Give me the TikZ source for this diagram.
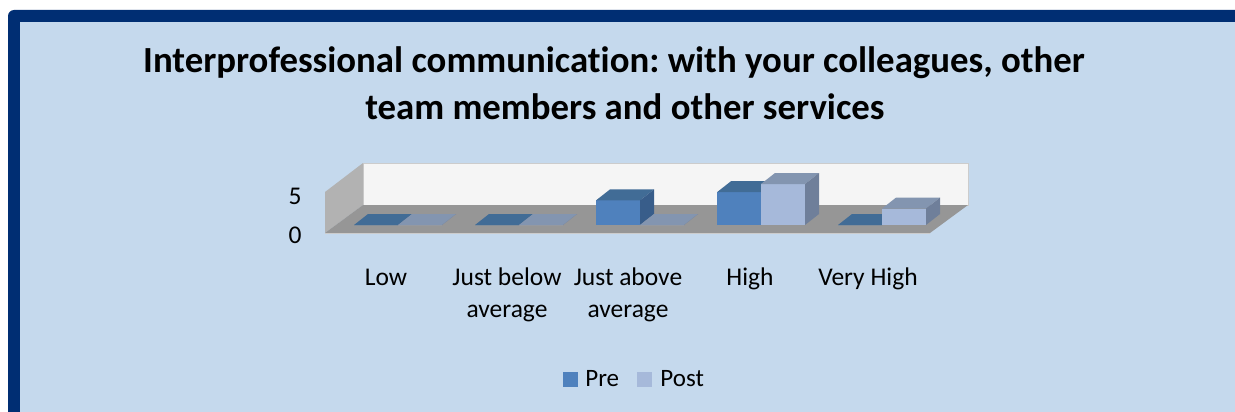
\documentclass[tikz,border=0pt]{standalone}
\usepackage{fontspec}
\setmainfont{Carlito}[Ligatures=NoCommon]
\usetikzlibrary{positioning}
\frenchspacing

\definecolor{framebl}{RGB}{0,46,115}
\definecolor{chartbg}{RGB}{197,217,237}
\definecolor{wallback}{RGB}{245,245,245}
\definecolor{wallside}{RGB}{178,178,178}
\definecolor{wallfloor}{RGB}{150,150,150}
\definecolor{prefront}{RGB}{79,129,189}
\definecolor{pretop}{RGB}{65,108,150}
\definecolor{preside}{RGB}{56,93,138}
\definecolor{postfront}{RGB}{166,185,218}
\definecolor{posttop}{RGB}{131,149,176}
\definecolor{postside}{RGB}{111,127,154}

\tikzset{
  titletext/.style={font=\fontsize{36.8}{46}\selectfont\bfseries, anchor=base, inner sep=0pt},
  lbl/.style={font=\fontsize{25.5}{32}\selectfont, align=center, anchor=base, inner sep=0pt},
  legsq/.style={minimum size=15pt, inner sep=0pt},
  legtxt/.style={font=\fontsize{25}{30}\selectfont, inner sep=0pt}
}

% one bar: x of front left, height, front, top and side colour
\newcommand{\barbox}[5]{%
  \fill[#3] (#1,225) rectangle (#1+44,225-#2);
  \fill[#4] (#1,225-#2) -- (#1+14,214-#2) -- (#1+58,214-#2) -- (#1+44,225-#2) -- cycle;
  \fill[#5] (#1+44,225) -- (#1+58,214) -- (#1+58,214-#2) -- (#1+44,225-#2) -- cycle;
}

\begin{document}
\begin{tikzpicture}[x=1pt,y=-1pt]
  \useasboundingbox (0,0) rectangle (1235,412);
  \fill[white] (0,0) rectangle (1235,412);
  \fill[framebl, rounded corners=6pt] (8,10) rectangle (1260,440);
  \fill[chartbg] (20,22) rectangle (1260,440);

  \node[titletext] (Title) at (614,73) {Interprofessional communication: with your colleagues, other};
  \node[titletext] (TitleB) at (625,120) {team members and other services};

  % walls and floor
  \fill[wallback, draw=black!20] (363,163) rectangle (968,205);
  \fill[wallside] (325,192) -- (363,163) -- (363,205) -- (325,233) -- cycle;
  \fill[wallfloor] (325,233) -- (363,205) -- (968,205) -- (930,233) -- cycle;
  \draw[black!20] (325,233.5) -- (930,233.5);

  \foreach \i/\pre/\post in {0/0/0, 1/0/0, 2/3/0, 3/4/5, 4/0/2} {
    \pgfmathsetmacro\xa{354+121*\i}
    \barbox{\xa}{8.2*\pre}{prefront}{pretop}{preside}
    \barbox{\xa+44}{8.2*\post}{postfront}{posttop}{postside}
  }

  \node[lbl, anchor=center] (Five) at (295,196) {5};
  \node[lbl, anchor=center] (Zero) at (295,235) {0};

  \node[lbl] (Low) at (386,285) {Low};
  \node[lbl] (JustBelow) at (507,317) {Just below\\average};
  \node[lbl] (JustAbove) at (628,317) {Just above\\average};
  \node[lbl] (High) at (750,285) {High};
  \node[lbl] (VeryHigh) at (868,285) {Very High};

  \node[legsq, fill=prefront] (PreKey) at (570.5,379) {};
  \node[legtxt, right=7pt of PreKey] (PreTxt) {Pre};
  \node[legsq, fill=postfront] (PostKey) at (644.5,379) {};
  \node[legtxt, right=8pt of PostKey] (PostTxt) {Post};
\end{tikzpicture}
\end{document}
